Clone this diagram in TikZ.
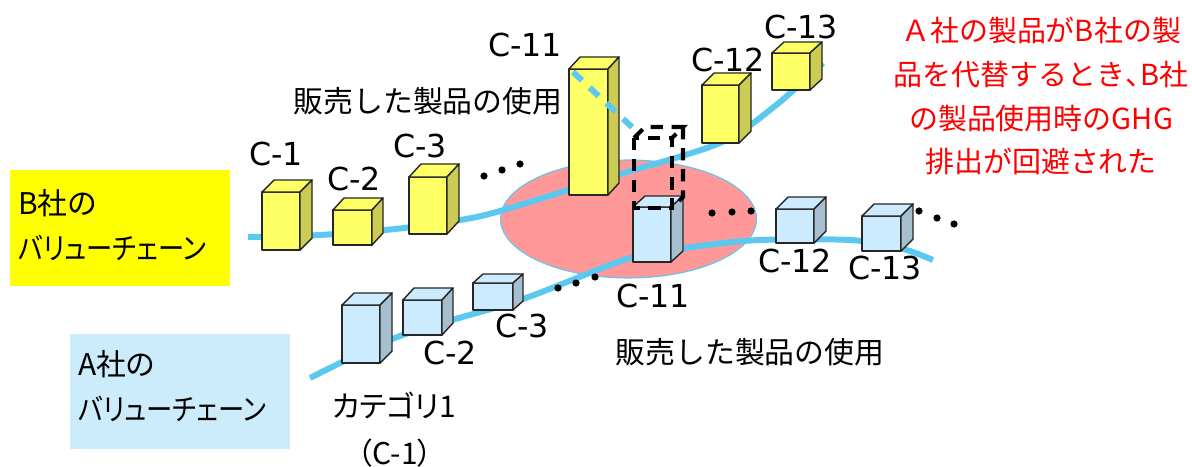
\documentclass[tikz,border=0pt]{standalone}
\usepackage{fontspec}
\setmainfont{DejaVu Sans}
\newfontfamily\jp{Noto Sans CJK JP}
\newfontfamily\jpp{Noto Sans CJK JP}[RawFeature={+palt}]
\newfontfamily\jpn{Noto Sans CJK JP}[RawFeature={+palt}, FakeStretch=0.88]
\definecolor{yelf}{HTML}{FFFF66}
\definecolor{yels}{HTML}{CCCC55}
\definecolor{bluf}{HTML}{CCEBFF}
\definecolor{blus}{HTML}{A6BFCF}
\definecolor{chainblue}{HTML}{5BC8F0}
\definecolor{pinkfill}{HTML}{FF9999}
\definecolor{labely}{HTML}{FFFF00}
\definecolor{labelb}{HTML}{CCEBFB}
\definecolor{redtext}{HTML}{FF0000}
% #1 x1, #2 y1 (front top), #3 x2, #4 y2 (front bottom), #5 dx, #6 dy, #7 front colour, #8 side colour
\newcommand\mycube[8]{%
  \filldraw[cubeline, fill=#7] (#1,#2) rectangle (#3,#4);
  \filldraw[cubeline, fill=#7] (#1,#2) -- (#1+#5,#2-#6) -- (#3+#5,#2-#6) -- (#3,#2) -- cycle;
  \filldraw[cubeline, fill=#8] (#3,#2) -- (#3+#5,#2-#6) -- (#3+#5,#4-#6) -- (#3,#4) -- cycle;
}
\begin{document}
\begin{tikzpicture}[x=0.02cm,y=-0.02cm,
  cubeline/.style={draw=black!85, line width=0.8pt, line join=round},
  chain/.style={line width=3.4pt, draw=chainblue, line cap=butt},
  clab/.style={font=\fontsize{18pt}{20pt}\selectfont, inner sep=0pt},
  jlab/.style={font=\jp\fontsize{17pt}{20pt}\selectfont, inner sep=0pt},
  plab/.style={font=\jpp\fontsize{17pt}{26pt}\selectfont, inner sep=0pt, align=left},
  dotmark/.style={fill=black},
  ghost/.style={draw=black, line width=2.4pt, dash pattern=on 7pt off 5pt}]
\useasboundingbox (0,0) rectangle (1192,466);

% label boxes
\fill[labely] (10,170) rectangle (230,286);
\node[plab, anchor=west] (blabel) at (18,225) {B社の\\{\jpn バリューチェーン}};
\fill[labelb] (70,334) rectangle (290,449);
\node[plab, anchor=west] (alabel) at (78,386) {A社の\\{\jpn バリューチェーン}};

% ellipse
\filldraw[fill=pinkfill, draw=chainblue, line width=0.6pt] (628.5,219) ellipse [x radius=128, y radius=59];

% chains
\draw[chain] plot[smooth, tension=0.5] coordinates {(248,237) (320,235) (395,229) (460,220) (500,211) (610,177) (720,143) (775,106) (823,63)};
\draw[chain] plot[smooth, tension=0.5] coordinates {(310,378) (400,336) (520,300) (630,258) (700,246) (760,240) (850,240) (900,248) (933,260)};

% B company cubes
\mycube{262}{192}{300}{250}{12}{12}{yelf}{yels}
\mycube{333}{210}{372}{245}{11}{12}{yelf}{yels}
\mycube{409}{177}{447}{234}{12}{13}{yelf}{yels}
\mycube{569}{69}{608}{195}{11}{12}{yelf}{yels}
\mycube{702}{85}{739}{143}{12}{12}{yelf}{yels}
\mycube{772}{53}{810}{90}{12}{11}{yelf}{yels}

% A company cubes
\mycube{342}{305}{380}{363}{12}{12}{bluf}{blus}
\mycube{403}{300}{442}{335}{11}{12}{bluf}{blus}
\mycube{473}{283}{513}{310}{10}{9}{bluf}{blus}
\mycube{633}{207}{671}{262}{12}{11}{bluf}{blus}
\mycube{776}{209}{814}{243}{12}{12}{bluf}{blus}
\mycube{862}{216}{901}{251}{12}{12}{bluf}{blus}

% dashed chain over tall cube
\draw[chain, dash pattern=on 7pt off 6pt] (573,72) -- (633,128);

% ghost cube
\draw[ghost] (634,138) rectangle (672,208);
\draw[ghost] (634,138) -- (645,127) -- (683,127) -- (672,138);
\draw[ghost] (683,127) -- (683,197) -- (672,208);

% ellipsis dots
\foreach \p in {(484,176),(502,170),(520,164),(558,288),(576,283),(595,277),(712,213),(732,212),(751,211),(919,211),(937,218),(954,224)}
  \fill[dotmark] \p circle (3.6);

% B labels
\node[clab] (b1) at (276,154) {C-1};
\node[clab] (b2) at (354,179) {C-2};
\node[clab] (b3) at (420,146) {C-3};
\node[clab] (b11) at (525,45) {C-11};
\node[clab] (b12) at (728,60) {C-12};
\node[clab] (b13) at (801,27) {C-13};
\node[jlab] (buse) at (428,101) {販売した製品の使用};

% A labels
\node[clab] (a2) at (450,353) {C-2};
\node[clab] (a3) at (522,326) {C-3};
\node[clab] (a11) at (653,296) {C-11};
\node[clab] (a12) at (795,261) {C-12};
\node[clab] (a13) at (885,268) {C-13};
\node[jlab] (ause) at (750,352) {販売した製品の使用};
\node[font=\jpp\fontsize{17pt}{20pt}\selectfont, inner sep=0pt] (a1a) at (394,405) {カテゴリ1};
\node[font=\jpp\fontsize{17pt}{20pt}\selectfont, inner sep=0pt] (a1b) at (395,453) {（C-1）};

% red note
\node[font=\jp\fontsize{16.5pt}{25pt}\selectfont, text=redtext, align=center, inner sep=0pt] (note) at (1041,96)
  {Ａ社の製品がB社の製\\品を代替するとき{\jpp 、}B社\\の製品使用時のGHG\\排出が回避された};
\end{tikzpicture}
\end{document}
